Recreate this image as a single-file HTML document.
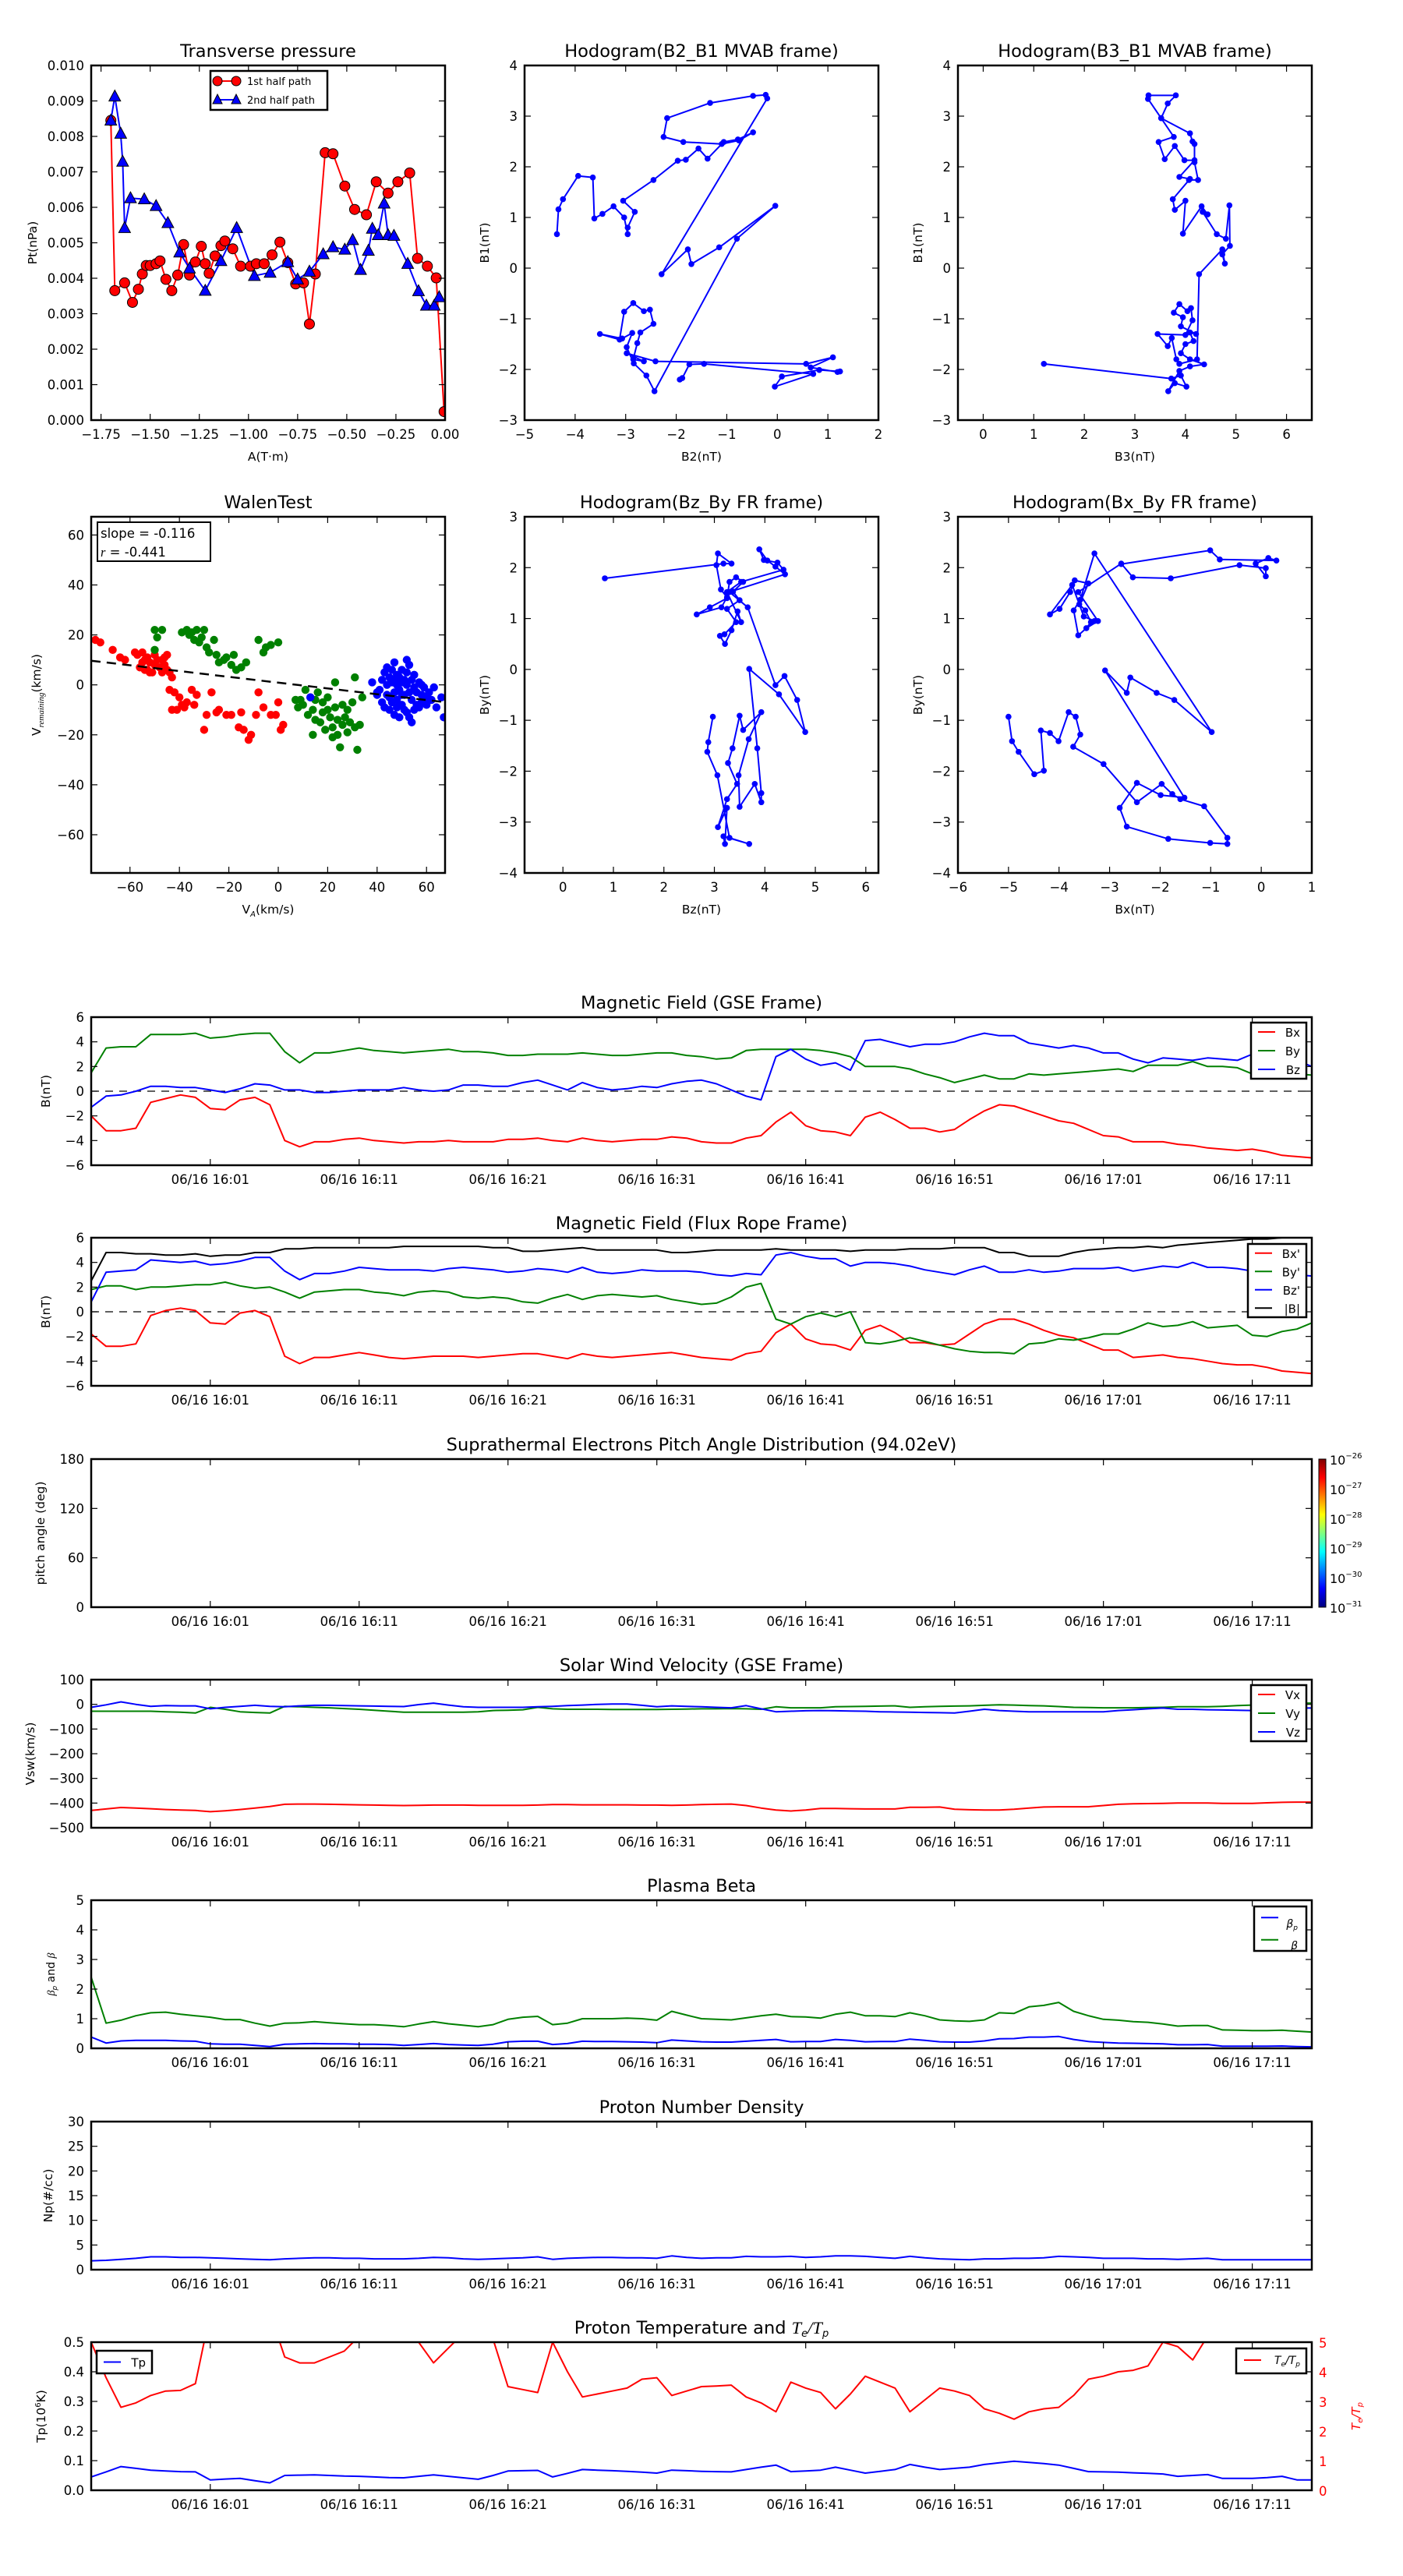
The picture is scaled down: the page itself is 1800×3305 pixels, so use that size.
<!DOCTYPE html>
<html><head><meta charset="utf-8"><style>
html,body{margin:0;padding:0;background:#fff;}
svg text{font-family:"DejaVu Sans","Liberation Sans",sans-serif;}
</style></head><body>
<svg id="fig" xmlns="http://www.w3.org/2000/svg" width="1800" height="3300" viewBox="0 0 1800 3300">
<defs>
<linearGradient id="jet" x1="0" y1="1" x2="0" y2="0">
<stop offset="0" stop-color="#00007f"/><stop offset="0.125" stop-color="#0000ff"/><stop offset="0.375" stop-color="#00ffff"/><stop offset="0.5" stop-color="#7fff7f"/><stop offset="0.625" stop-color="#ffff00"/><stop offset="0.875" stop-color="#ff0000"/><stop offset="1" stop-color="#7f0000"/>
</linearGradient>
</defs>
<rect x="0" y="0" width="1800" height="3300" fill="#fff"/>
</svg>
<script>
// ---------- DATA ----------
const ptRedA=[-1.70,-1.68,-1.63,-1.59,-1.56,-1.54,-1.52,-1.50,-1.47,-1.45,-1.42,-1.39,-1.36,-1.33,-1.30,-1.27,-1.24,-1.22,-1.20,-1.17,-1.14,-1.12,-1.08,-1.04,-0.99,-0.96,-0.92,-0.88,-0.84,-0.80,-0.76,-0.72,-0.69,-0.66,-0.61,-0.57,-0.51,-0.46,-0.40,-0.35,-0.29,-0.24,-0.18,-0.14,-0.09,-0.045,-0.005];
const ptRedP=[8.45,3.65,3.87,3.32,3.69,4.12,4.36,4.36,4.41,4.49,3.97,3.65,4.09,4.95,4.09,4.46,4.90,4.41,4.14,4.63,4.92,5.05,4.83,4.34,4.34,4.41,4.41,4.66,5.02,4.44,3.84,3.87,2.71,4.12,7.54,7.51,6.60,5.94,5.79,6.72,6.40,6.72,6.97,4.56,4.34,4.01,0.24];
const ptBlueA=[-1.70,-1.68,-1.65,-1.64,-1.63,-1.60,-1.53,-1.47,-1.41,-1.35,-1.30,-1.22,-1.14,-1.06,-0.97,-0.89,-0.80,-0.75,-0.69,-0.62,-0.57,-0.51,-0.47,-0.43,-0.39,-0.37,-0.34,-0.31,-0.29,-0.26,-0.19,-0.135,-0.095,-0.055,-0.03];
const ptBlueP=[8.45,9.13,8.08,7.29,5.42,6.26,6.23,6.04,5.56,4.73,4.28,3.65,4.49,5.42,4.07,4.16,4.46,3.97,4.19,4.68,4.88,4.81,5.08,4.24,4.78,5.40,5.22,6.11,5.22,5.20,4.41,3.64,3.23,3.23,3.47];
const h1B2=[-4.36,-4.33,-4.24,-3.94,-3.65,-3.62,-3.46,-3.24,-3.03,-2.96,-2.96,-2.82,-3.05,-2.45,-1.97,-1.81,-1.56,-1.38,-1.06,-0.78,-0.48,-0.76,-1.10,-1.86,-2.25,-2.18,-1.33,-0.48,-0.23,-0.20,-2.29,-1.77,-1.70,-1.15,-0.04,-0.80,-2.43,-2.59,-2.84,-2.98,-2.87,-3.07,-3.51,-3.12,-3.03,-2.85,-2.64,-2.52,-2.45,-2.71,-2.77,-2.85,-2.64,-2.98,-2.41,0.57,1.10,0.66,1.19,1.24,0.83,0.09,-0.05,0.71,-1.45,-1.74,-1.88,-1.93];
const h1B1=[0.67,1.16,1.36,1.82,1.79,0.98,1.07,1.22,1.00,0.67,0.80,1.11,1.33,1.74,2.12,2.14,2.36,2.16,2.49,2.54,2.68,2.52,2.45,2.49,2.59,2.96,3.26,3.40,3.42,3.35,-0.12,0.37,0.08,0.41,1.23,0.58,-2.43,-2.12,-1.88,-1.56,-1.28,-1.39,-1.30,-1.41,-0.86,-0.69,-0.85,-0.82,-1.10,-1.27,-1.48,-1.80,-1.84,-1.68,-1.84,-1.89,-1.76,-1.96,-2.05,-2.04,-2.01,-2.14,-2.34,-2.09,-1.89,-1.90,-2.17,-2.20];
const h2B3=[1.20,3.72,3.91,4.02,3.79,3.66,3.88,4.09,4.37,4.09,3.91,4.00,4.16,4.09,4.21,3.91,3.95,3.77,3.88,4.04,4.11,4.14,4.00,3.45,3.65,3.73,3.82,3.88,4.23,4.27,4.73,4.78,4.73,4.88,4.87,4.80,4.62,4.34,4.44,4.32,3.95,4.00,3.79,3.75,4.09,3.88,4.18,3.98,3.79,3.59,3.47,3.77,3.52,3.65,3.81,3.27,3.26,3.52,4.09,4.14,4.18,4.18,4.25,4.07];
const h2B1=[-1.89,-2.18,-2.12,-2.34,-2.27,-2.43,-2.03,-1.94,-1.90,-1.80,-1.68,-1.50,-1.44,-1.27,-1.30,-1.15,-0.97,-0.88,-0.71,-0.85,-0.79,-1.03,-1.32,-1.30,-1.54,-1.38,-1.80,-1.89,-1.80,-0.12,0.37,0.09,0.27,0.44,1.24,0.58,0.67,1.11,1.06,1.22,0.68,1.33,1.15,1.36,1.76,1.80,2.13,2.13,2.41,2.15,2.49,2.59,2.96,3.25,3.41,3.41,3.34,2.96,2.66,2.50,2.45,2.09,1.74,1.74];
const walenRedX=[-74,-72,-67,-64,-62,-57,-55,-53,-52,-50,-49,-48,-47,-46,-45,-44,-43,-56,-54,-51,-50,-58,-55,-53,-47,-44,-42,-40,-43,-39,-37,-35,-34,-30,-29,-27,-25,-24,-21,-19,-15,-14,-12,-11,-9,-8,-6,-3,-1,1,2,0,-33,-38,-41,-16,-45,-46,-52,-54];
const walenRedY=[18,17,14,11,10,12,13,11,9,8,10,7,5,8,6,5,3,7,6,5,12,13,9,6,10,-2,-3,-5,-10,-8,-7,-2,-8,-18,-12,-3,-11,-10,-12,-12,-11,-18,-22,-20,-12,-3,-9,-12,-12,-18,-16,-7,-4,-9,-10,-17,12,11,5,10];
const walenGreenX=[-50,-47,-50,-49,-39,-37,-36,-35,-33,-32,-31,-30,-29,-28,-26,-24,-22,-21,-19,-18,-17,-15,-13,-8,-6,-5,-3,0,7,9,10,12,13,14,15,16,17,18,20,21,22,23,24,24,25,26,27,28,29,30,31,32,33,23,31,34,20,15,11,19,8,14,28,22,26,18,-25,-34];
const walenGreenY=[22,22,14,19,21,22,20,21,22,17,19,22,15,13,18,9,10,11,8,12,6,7,9,18,13,15,16,17,-6,-6,-8,-12,-5,-10,-6,-3,-15,-11,-10,-13,-17,-9,-14,-20,-25,-8,-13,-19,-15,-7,-17,-26,-16,1,3,-5,-5,-14,-2,-18,-9,-20,-10,-21,-16,-7,12,18];
const walenBlueX=[13,38,40,41,42,43,44,44,45,45,46,46,47,47,48,48,48,49,49,50,50,50,51,51,52,52,52,53,53,54,54,55,55,56,56,57,58,58,59,60,61,62,63,64,66,67,43,45,47,49,51,53,46,44,47,52,54,57,42,40,48,50,55,58,60];
const walenBlueY=[-5,1,-3,-2,2,5,-4,0,3,-5,1,6,-3,2,-6,0,4,-2,3,-8,1,6,-4,2,-11,0,5,-3,8,-6,2,-1,4,-8,-3,1,-4,-7,-1,-5,-3,-6,-1,-9,-5,-13,-9,-10,-12,-13,-10,-13,-7,7,9,10,-15,-9,-7,-4,-9,-4,-10,0,-8];
const walenSlope=-0.116;
const walenIntercept=0.9;
const h3Bz=[0.83,3.18,3.34,3.07,3.04,3.13,3.25,3.14,2.65,2.91,3.25,3.30,3.43,3.57,3.37,3.50,3.25,3.43,3.20,3.11,3.21,3.34,3.46,3.53,3.25,3.53,4.37,4.25,3.98,3.89,4.05,4.21,4.40,3.30,3.66,4.21,4.39,4.64,4.80,4.28,3.69,3.85,3.93,3.93,3.80,3.50,3.48,3.68,3.93,3.57,3.50,3.36,3.27,3.45,3.25,3.07,3.25,3.21,3.18,3.69,3.30,3.06,2.86,2.88,2.97];
const h3By=[1.79,2.08,2.08,2.28,2.05,1.57,1.42,1.22,1.08,1.22,1.40,1.72,1.81,1.72,1.53,1.36,1.19,0.93,0.69,0.66,0.50,0.77,1.14,0.93,1.52,1.72,1.96,2.10,2.15,2.36,2.14,2.02,1.87,1.52,1.22,-0.31,-0.13,-0.60,-1.23,-0.49,0.01,-1.55,-2.43,-2.61,-2.25,-2.70,-2.08,-1.37,-0.84,-1.19,-0.91,-1.55,-1.84,-2.25,-2.55,-3.10,-2.72,-3.43,-3.28,-3.43,-3.31,-2.08,-1.62,-1.43,-0.93];
const h4Bx=[-5.00,-4.93,-4.80,-4.49,-4.30,-4.36,-4.18,-4.01,-3.81,-3.67,-3.58,-3.72,-3.12,-2.46,-1.97,-1.76,-1.60,-1.13,-0.67,-0.67,-1.01,-1.84,-2.66,-2.80,-2.46,-1.99,-1.52,-3.09,-2.66,-2.59,-2.07,-1.72,-0.98,-3.30,-3.58,-3.71,-3.62,-3.30,-3.51,-3.74,-4.18,-3.99,-3.78,-3.69,-3.42,-3.60,-3.48,-3.37,-3.46,-3.23,-3.62,-2.77,-2.54,-1.79,-0.43,0.09,0.09,-0.11,0.14,0.30,-0.82,-1.01,-2.77];
const h4By=[-0.93,-1.41,-1.62,-2.06,-1.99,-1.20,-1.25,-1.41,-0.84,-0.93,-1.28,-1.52,-1.86,-2.61,-2.25,-2.45,-2.55,-2.69,-3.31,-3.43,-3.41,-3.33,-3.09,-2.72,-2.23,-2.47,-2.52,-0.02,-0.46,-0.16,-0.46,-0.60,-1.23,2.28,1.37,1.16,0.67,0.95,1.04,1.66,1.08,1.19,1.52,1.75,1.69,1.28,1.16,0.93,0.81,0.95,1.52,2.08,1.81,1.79,2.05,1.99,1.83,2.08,2.19,2.14,2.16,2.34,2.07];
// time series: one value per minute starting 06/16 15:53
const timeTickMin=[8,18,28,38,48,58,68,78];
const timeTickLabels=['06/16 16:01','06/16 16:11','06/16 16:21','06/16 16:31','06/16 16:41','06/16 16:51','06/16 17:01','06/16 17:11'];
const gseBx=[-2.0,-3.2,-3.2,-3.0,-0.9,-0.6,-0.3,-0.5,-1.4,-1.5,-0.7,-0.5,-1.1,-4.0,-4.5,-4.1,-4.1,-3.9,-3.8,-4.0,-4.1,-4.2,-4.1,-4.1,-4.0,-4.1,-4.1,-4.1,-3.9,-3.9,-3.8,-4.0,-4.1,-3.8,-4.0,-4.1,-4.0,-3.9,-3.9,-3.7,-3.8,-4.1,-4.2,-4.2,-3.8,-3.6,-2.5,-1.7,-2.8,-3.2,-3.3,-3.6,-2.1,-1.7,-2.3,-3.0,-3.0,-3.3,-3.1,-2.3,-1.6,-1.1,-1.2,-1.6,-2.0,-2.4,-2.6,-3.1,-3.6,-3.7,-4.1,-4.1,-4.1,-4.3,-4.4,-4.6,-4.7,-4.8,-4.7,-4.9,-5.2,-5.3,-5.4];
const gseBy=[1.5,3.5,3.6,3.6,4.6,4.6,4.6,4.7,4.3,4.4,4.6,4.7,4.7,3.2,2.3,3.1,3.1,3.3,3.5,3.3,3.2,3.1,3.2,3.3,3.4,3.2,3.2,3.1,2.9,2.9,3.0,3.0,3.0,3.1,3.0,2.9,2.9,3.0,3.1,3.1,2.9,2.8,2.6,2.7,3.3,3.4,3.4,3.4,3.4,3.3,3.1,2.8,2.0,2.0,2.0,1.8,1.4,1.1,0.7,1.0,1.3,1.0,1.0,1.4,1.3,1.4,1.5,1.6,1.7,1.8,1.6,2.1,2.1,2.1,2.4,2.0,2.0,1.9,1.4,1.5,1.5,1.4,1.3];
const gseBz=[-1.3,-0.4,-0.3,0.0,0.4,0.4,0.3,0.3,0.1,-0.1,0.2,0.6,0.5,0.1,0.1,-0.1,-0.1,0.0,0.1,0.1,0.1,0.3,0.1,0.0,0.1,0.5,0.5,0.4,0.4,0.7,0.9,0.5,0.1,0.7,0.3,0.1,0.2,0.4,0.3,0.6,0.8,0.9,0.6,0.1,-0.4,-0.7,2.8,3.4,2.6,2.1,2.3,1.7,4.1,4.2,3.9,3.6,3.8,3.8,4.0,4.4,4.7,4.5,4.5,3.9,3.7,3.5,3.7,3.5,3.1,3.1,2.6,2.3,2.7,2.6,2.5,2.7,2.6,2.5,3.0,3.0,2.8,2.5,2.0];
const frBx=[-1.8,-2.8,-2.8,-2.6,-0.3,0.1,0.3,0.1,-0.9,-1.0,-0.1,0.1,-0.4,-3.6,-4.2,-3.7,-3.7,-3.5,-3.3,-3.5,-3.7,-3.8,-3.7,-3.6,-3.6,-3.6,-3.7,-3.6,-3.5,-3.4,-3.4,-3.6,-3.8,-3.4,-3.6,-3.7,-3.6,-3.5,-3.4,-3.3,-3.5,-3.7,-3.8,-3.9,-3.4,-3.2,-1.7,-1.0,-2.2,-2.6,-2.7,-3.1,-1.5,-1.1,-1.7,-2.5,-2.5,-2.7,-2.6,-1.8,-1.0,-0.6,-0.6,-1.0,-1.5,-1.9,-2.1,-2.6,-3.1,-3.1,-3.7,-3.6,-3.5,-3.7,-3.8,-4.0,-4.2,-4.3,-4.3,-4.5,-4.8,-4.9,-5.0];
const frBy=[1.8,2.1,2.1,1.8,2.0,2.0,2.1,2.2,2.2,2.4,2.1,1.9,2.0,1.6,1.1,1.6,1.7,1.8,1.8,1.6,1.5,1.3,1.6,1.7,1.6,1.2,1.1,1.2,1.1,0.8,0.7,1.1,1.4,1.0,1.3,1.4,1.3,1.2,1.3,1.0,0.8,0.6,0.7,1.2,2.0,2.3,-0.6,-1.0,-0.4,-0.1,-0.4,0.0,-2.5,-2.6,-2.4,-2.1,-2.4,-2.7,-3.0,-3.2,-3.3,-3.3,-3.4,-2.6,-2.5,-2.2,-2.3,-2.1,-1.8,-1.8,-1.4,-0.9,-1.2,-1.1,-0.8,-1.3,-1.2,-1.1,-1.9,-2.0,-1.6,-1.4,-0.9];
const frBz=[0.8,3.2,3.3,3.4,4.2,4.1,4.0,4.1,3.8,3.9,4.1,4.4,4.4,3.3,2.6,3.1,3.1,3.3,3.6,3.5,3.4,3.4,3.4,3.3,3.5,3.6,3.5,3.4,3.2,3.3,3.5,3.4,3.2,3.6,3.2,3.1,3.2,3.4,3.3,3.3,3.3,3.2,3.0,2.9,3.1,3.0,4.6,4.8,4.5,4.3,4.3,3.7,4.0,4.0,3.9,3.7,3.4,3.2,3.0,3.4,3.7,3.2,3.2,3.4,3.2,3.3,3.5,3.5,3.5,3.6,3.3,3.5,3.7,3.6,4.0,3.6,3.6,3.5,3.3,3.1,3.0,3.0,2.9];
const frBt=[2.5,4.8,4.8,4.7,4.7,4.6,4.6,4.7,4.5,4.6,4.6,4.8,4.8,5.1,5.1,5.2,5.2,5.2,5.2,5.2,5.2,5.3,5.3,5.3,5.3,5.3,5.3,5.2,5.2,4.9,4.9,5.0,5.1,5.2,5.0,5.0,5.0,5.0,5.0,4.8,4.8,4.9,5.0,5.0,5.0,5.0,5.1,5.0,5.0,5.0,5.0,4.9,5.0,5.0,5.0,5.1,5.1,5.1,5.2,5.2,5.2,4.8,4.8,4.5,4.5,4.5,4.8,5.0,5.1,5.2,5.2,5.3,5.2,5.4,5.5,5.6,5.7,5.8,5.9,5.9,6.0,6.0,6.0];
const vswVx=[-430,-424,-418,-420,-423,-426,-428,-430,-435,-431,-426,-420,-414,-405,-404,-404,-405,-406,-407,-408,-409,-410,-409,-408,-408,-408,-409,-409,-409,-409,-408,-406,-406,-407,-407,-407,-407,-408,-408,-409,-408,-406,-405,-404,-410,-420,-428,-432,-428,-422,-422,-423,-424,-424,-424,-417,-417,-416,-425,-427,-428,-428,-425,-420,-416,-415,-415,-415,-410,-405,-403,-402,-401,-400,-400,-400,-401,-401,-401,-399,-397,-396,-396];
const vswVy=[-28,-28,-28,-28,-28,-30,-32,-35,-12,-20,-30,-33,-35,-8,-10,-12,-14,-17,-20,-24,-28,-32,-32,-32,-32,-32,-30,-25,-24,-22,-12,-18,-20,-20,-20,-21,-21,-21,-21,-20,-19,-18,-18,-17,-18,-20,-10,-14,-14,-14,-10,-9,-8,-7,-6,-12,-10,-8,-7,-6,-4,-2,-3,-5,-6,-9,-12,-13,-14,-14,-14,-13,-12,-10,-10,-10,-8,-5,-3,0,3,5,5];
const vswVz=[-12,-2,10,0,-8,-5,-6,-6,-18,-12,-8,-4,-8,-10,-6,-4,-4,-5,-6,-7,-8,-9,-1,5,-3,-10,-12,-12,-12,-12,-10,-8,-5,-3,0,1,1,-4,-10,-6,-8,-10,-12,-14,-5,-18,-30,-28,-26,-25,-26,-27,-28,-30,-31,-32,-33,-34,-35,-28,-20,-25,-28,-30,-30,-30,-30,-30,-30,-25,-22,-18,-15,-20,-20,-22,-23,-24,-25,-25,-20,-15,-15];
const betaTotal=[2.4,0.85,0.95,1.1,1.2,1.22,1.15,1.1,1.05,0.97,0.97,0.85,0.75,0.85,0.86,0.9,0.86,0.83,0.8,0.8,0.77,0.73,0.82,0.9,0.83,0.78,0.73,0.8,0.98,1.05,1.08,0.8,0.85,1.0,1.0,1.0,1.02,1.0,0.95,1.25,1.12,1.0,0.98,0.96,1.03,1.1,1.15,1.07,1.06,1.02,1.15,1.22,1.1,1.1,1.07,1.2,1.1,0.96,0.93,0.91,0.96,1.2,1.18,1.4,1.45,1.55,1.25,1.1,0.98,0.95,0.9,0.88,0.82,0.75,0.77,0.77,0.62,0.61,0.6,0.6,0.61,0.58,0.55];
const betaP=[0.38,0.18,0.25,0.27,0.27,0.27,0.25,0.24,0.15,0.14,0.14,0.1,0.06,0.14,0.15,0.16,0.15,0.15,0.14,0.14,0.13,0.1,0.13,0.16,0.13,0.11,0.1,0.14,0.22,0.24,0.24,0.13,0.16,0.24,0.23,0.23,0.22,0.21,0.19,0.28,0.25,0.22,0.21,0.21,0.24,0.27,0.3,0.22,0.23,0.23,0.3,0.27,0.22,0.23,0.23,0.31,0.27,0.22,0.21,0.21,0.25,0.32,0.33,0.38,0.38,0.4,0.3,0.23,0.2,0.18,0.17,0.16,0.15,0.12,0.12,0.13,0.07,0.07,0.07,0.07,0.08,0.06,0.05];
const npDensity=[1.8,1.9,2.1,2.3,2.6,2.6,2.5,2.5,2.4,2.3,2.2,2.1,2.0,2.2,2.3,2.4,2.4,2.3,2.3,2.2,2.2,2.2,2.3,2.5,2.4,2.2,2.1,2.2,2.3,2.4,2.6,2.1,2.3,2.4,2.5,2.5,2.4,2.4,2.3,2.8,2.5,2.3,2.4,2.4,2.7,2.6,2.6,2.7,2.5,2.6,2.8,2.8,2.7,2.5,2.3,2.7,2.4,2.2,2.1,2.0,2.2,2.2,2.3,2.3,2.4,2.7,2.6,2.5,2.3,2.3,2.3,2.2,2.2,2.1,2.2,2.3,2.0,2.0,2.0,2.0,2.0,2.0,2.0];
const tpTemp=[0.045,0.062,0.08,0.074,0.068,0.065,0.063,0.062,0.035,0.038,0.04,0.032,0.025,0.05,0.051,0.052,0.05,0.048,0.047,0.045,0.043,0.042,0.047,0.052,0.047,0.042,0.037,0.05,0.065,0.066,0.067,0.045,0.057,0.07,0.068,0.066,0.064,0.061,0.058,0.068,0.066,0.064,0.063,0.062,0.07,0.078,0.085,0.063,0.065,0.068,0.078,0.068,0.058,0.064,0.07,0.087,0.078,0.07,0.074,0.078,0.087,0.093,0.098,0.094,0.09,0.085,0.074,0.063,0.062,0.061,0.059,0.057,0.055,0.047,0.05,0.053,0.04,0.04,0.04,0.043,0.047,0.035,0.035];
const teTpRatio=[5.0,3.8,2.8,2.95,3.2,3.35,3.37,3.6,6,6,6,6,6,4.5,4.3,4.3,4.5,4.7,5.2,6,6,6,5.0,4.3,4.8,5.3,6,5.1,3.5,3.4,3.3,5.0,4.0,3.15,3.25,3.35,3.45,3.75,3.8,3.2,3.35,3.5,3.52,3.55,3.15,2.95,2.65,3.65,3.45,3.3,2.75,3.25,3.85,3.65,3.45,2.65,3.05,3.45,3.35,3.2,2.75,2.6,2.4,2.65,2.75,2.8,3.2,3.75,3.85,4.0,4.05,4.2,5.0,4.85,4.4,5.2,6,6,6,6,6,6,6];
const cbarLabels=['-26','-27','-28','-29','-30','-31'];

// ---------- HELPERS ----------
const NS='http://www.w3.org/2000/svg';
const svg=document.getElementById('fig');
function mk(tag,attrs,parent){const e=document.createElementNS(NS,tag);for(const k in attrs)e.setAttribute(k,attrs[k]);(parent||svg).appendChild(e);return e;}
function nm(e,name,inter){
  
  
  return e;}
function txt(x,y,s,size,anchor,parent,extra){const t=mk('text',Object.assign({x:x,y:y,'font-size':size,'text-anchor':anchor||'middle',fill:'#000'},extra||{}),parent);t.textContent=s;return t;}
function fmt(v,d){const s=v.toFixed(d);return s.replace('-','\u2212');}
let cpn=0;
function makeAxes(name,x0,y0,x1,y1,xl,yl){
  const g=mk('g',{});nm(g,name,false);
  const sx=v=>x0+(v-xl[0])/(xl[1]-xl[0])*(x1-x0);
  const sy=v=>y1-(v-yl[0])/(yl[1]-yl[0])*(y1-y0);
  const id='cp'+(cpn++);
  const cp=mk('clipPath',{id:id},g);mk('rect',{x:x0,y:y0,width:x1-x0,height:y1-y0},cp);
  const plot=mk('g',{'clip-path':'url(#'+id+')'},g);
  nm(plot,name+'-plot-area',false);
  return {g,plot,sx,sy,x0,y0,x1,y1};
}
function frame(a){const r=mk('rect',{x:a.x0,y:a.y0,width:a.x1-a.x0,height:a.y1-a.y0,fill:'none',stroke:'#000','stroke-width':2.5},a.g);nm(r,'axes-frame',false);}
function xTicks(a,vals,labels,size){const g=mk('g',{},a.g);nm(g,'x-axis-ticks',false);
  vals.forEach((v,i)=>{const X=a.sx(v);mk('line',{x1:X,x2:X,y1:a.y1,y2:a.y1-8,stroke:'#000','stroke-width':1.2},g);mk('line',{x1:X,x2:X,y1:a.y0,y2:a.y0+8,stroke:'#000','stroke-width':1.2},g);
  const t=txt(X,a.y1+24,labels[i],size||16.5,'middle',g);nm(t,'x-tick-label',false);});}
function yTicks(a,vals,labels,size){const g=mk('g',{},a.g);nm(g,'y-axis-ticks',false);
  vals.forEach((v,i)=>{const Y=a.sy(v);mk('line',{x1:a.x0,x2:a.x0+8,y1:Y,y2:Y,stroke:'#000','stroke-width':1.2},g);mk('line',{x1:a.x1,x2:a.x1-8,y1:Y,y2:Y,stroke:'#000','stroke-width':1.2},g);
  const t=txt(a.x0-9,Y+6,labels[i],size||16.5,'end',g);nm(t,'y-tick-label',false);});}
function title(a,s){const t=txt((a.x0+a.x1)/2,a.y0-11,s,22.5,'middle',a.g);nm(t,'chart-title',false);return t;}
function xlabel(a,s,y){const t=txt((a.x0+a.x1)/2,y,s,15.5,'middle',a.g);nm(t,'x-axis-title',false);return t;}
function ylabel(a,s,x){const Y=(a.y0+a.y1)/2;const t=txt(x,Y,s,15.5,'middle',a.g,{transform:'rotate(-90 '+x+' '+Y+')'});nm(t,'y-axis-title',false);return t;}
function line(a,xs,ys,color,name,w){const p=xs.map((x,i)=>a.sx(x).toFixed(1)+','+a.sy(ys[i]).toFixed(1)).join(' ');const l=mk('polyline',{points:p,fill:'none',stroke:color,'stroke-width':w||2,'stroke-linejoin':'round'},a.plot);nm(l,name,false);return l;}
function dots(a,xs,ys,color,r,name){const g=mk('g',{},a.plot);nm(g,name,false);xs.forEach((x,i)=>{const c=mk('circle',{cx:a.sx(x),cy:a.sy(ys[i]),r:r,fill:color},g);nm(c,name+'-point',false);});return g;}
function range(a,b,s){const r=[];for(let v=a;v<=b+1e-9;v+=s)r.push(+v.toFixed(6));return r;}
function legend(a,x,y,w,h,entries,fs){const g=mk('g',{},a.g);nm(g,'legend',false);
  mk('rect',{x:x,y:y,width:w,height:h,fill:'#fff',stroke:'#000','stroke-width':2.5},g);
  const step=h/entries.length;
  entries.forEach((e,i)=>{const cy=y+step*(i+0.5);const ge=mk('g',{},g);nm(ge,'legend-entry',false);
    mk('line',{x1:x+9,x2:x+31,y1:cy,y2:cy,stroke:e[1],'stroke-width':2},ge);
    const t=txt(x+w-8,cy+6,e[0],fs||16,'end',ge,e[2]||{});});return g;}

// ---------- ROW 1/2 PANELS ----------
const R1=[84,539], R2=[663,1120];
const C1=[117,571],C2=[673,1127],C3=[1229,1683];
const minuteIdx=gseBx.map((v,i)=>i);

// Transverse pressure
(function(){
  const a=makeAxes('transverse-pressure-chart',C1[0],R1[0],C1[1],R1[1],[-1.80,0],[0,0.010]);
  const red=line(a,ptRedA,ptRedP.map(v=>v/1000),'#ff0000','first-half-path-line',2);
  const blue=line(a,ptBlueA,ptBlueP.map(v=>v/1000),'#0000ff','second-half-path-line',2);
  const gr=mk('g',{},a.plot);nm(gr,'first-half-path-markers',false);
  ptRedA.forEach((x,i)=>{const c=mk('circle',{cx:a.sx(x),cy:a.sy(ptRedP[i]/1000),r:6.5,fill:'#ff0000',stroke:'#000','stroke-width':1},gr);nm(c,'first-half-marker',false);});
  const gb=mk('g',{},a.plot);nm(gb,'second-half-path-markers',false);
  ptBlueA.forEach((x,i)=>{const X=a.sx(x),Y=a.sy(ptBlueP[i]/1000);const t=mk('polygon',{points:(X)+','+(Y-8)+' '+(X-7.5)+','+(Y+6)+' '+(X+7.5)+','+(Y+6),fill:'#0000ff',stroke:'#000','stroke-width':1},gb);nm(t,'second-half-marker',false);});
  frame(a);
  const xt=[-1.75,-1.5,-1.25,-1,-0.75,-0.5,-0.25,0];
  xTicks(a,xt,xt.map(v=>fmt(v,2)));
  const yt=range(0,0.010,0.001);yTicks(a,yt,yt.map(v=>v.toFixed(3)));
  title(a,'Transverse pressure');xlabel(a,'A(T\u00b7m)',591);ylabel(a,'Pt(nPa)',47);
  const lg=mk('g',{},a.g);nm(lg,'legend',false);
  mk('rect',{x:270,y:91,width:150,height:50,fill:'#fff',stroke:'#000','stroke-width':2.5},lg);
  const e1=mk('g',{},lg);nm(e1,'legend-entry',false);
  mk('line',{x1:277,x2:305,y1:104,y2:104,stroke:'#f00','stroke-width':2},e1);
  mk('circle',{cx:279,cy:104,r:6,fill:'#f00',stroke:'#000'},e1);mk('circle',{cx:303,cy:104,r:6,fill:'#f00',stroke:'#000'},e1);
  txt(317,109,'1st half path',13,'start',e1);
  const e2=mk('g',{},lg);nm(e2,'legend-entry',false);
  mk('line',{x1:277,x2:305,y1:128,y2:128,stroke:'#00f','stroke-width':2},e2);
  mk('polygon',{points:'279,121 273,133 285,133',fill:'#00f',stroke:'#000'},e2);mk('polygon',{points:'303,121 297,133 309,133',fill:'#00f',stroke:'#000'},e2);
  txt(317,133,'2nd half path',13,'start',e2);
})();

function hodo(name,C,R,xl,yl,xs,ys,xt,yt,tt,xlab,ylab){
  const a=makeAxes(name,C[0],R[0],C[1],R[1],xl,yl);
  line(a,xs,ys,'#0000ff',name+'-path',2);
  dots(a,xs,ys,'#0000ff',3.8,name+'-points');
  frame(a);
  xTicks(a,xt,xt.map(v=>fmt(v,0)));yTicks(a,yt,yt.map(v=>fmt(v,0)));
  title(a,tt);xlabel(a,xlab,R[1]===R1[1]?591:1172);ylabel(a,ylab,C[0]-46);
  return a;
}
hodo('hodogram-b2-b1',C2,R1,[-5,2],[-3,4],h1B2,h1B1,range(-5,2,1),range(-3,4,1),'Hodogram(B2_B1 MVAB frame)','B2(nT)','B1(nT)');
hodo('hodogram-b3-b1',C3,R1,[-0.5,6.5],[-3,4],h2B3,h2B1,range(0,6,1),range(-3,4,1),'Hodogram(B3_B1 MVAB frame)','B3(nT)','B1(nT)');
hodo('hodogram-bz-by',C2,R2,[-0.76,6.25],[-4,3],h3Bz,h3By,range(0,6,1),range(-4,3,1),'Hodogram(Bz_By FR frame)','Bz(nT)','By(nT)');
hodo('hodogram-bx-by',C3,R2,[-6,1],[-4,3],h4Bx,h4By,range(-6,1,1),range(-4,3,1),'Hodogram(Bx_By FR frame)','Bx(nT)','By(nT)');

// Walen test
(function(){
  const a=makeAxes('walen-test-chart',C1[0],R2[0],C1[1],R2[1],[-75.7,67.5],[-75.3,67.3]);
  dots(a,walenRedX,walenRedY,'#ff0000',5.2,'walen-red-points');
  dots(a,walenGreenX,walenGreenY,'#008000',5.2,'walen-green-points');
  dots(a,walenBlueX,walenBlueY,'#0000ff',5.2,'walen-blue-points');
  const xs=[-75.7,67.5];
  const fl=line(a,xs,xs.map(v=>walenSlope*v+walenIntercept),'#000','walen-fit-line',2.5);fl.setAttribute('stroke-dasharray','12,8');
  frame(a);
  const t=range(-60,60,20);xTicks(a,t,t.map(v=>fmt(v,0)));yTicks(a,t,t.map(v=>fmt(v,0)));
  title(a,'WalenTest');
  const xl=xlabel(a,'',1172);xl.innerHTML='V<tspan font-size="10" font-style="italic" dy="4">A</tspan><tspan dy="-4">(km/s)</tspan>';
  const Y=(a.y0+a.y1)/2;const yl=txt(52,Y,'',15.5,'middle',a.g,{transform:'rotate(-90 52 '+Y+')'});nm(yl,'y-axis-title',false);
  yl.innerHTML='V<tspan font-size="11" font-style="italic" font-family="Liberation Serif" dy="4">remaining</tspan><tspan dy="-4">(km/s)</tspan>';
  const bx=mk('g',{},a.g);nm(bx,'fit-stats-box',false);
  mk('rect',{x:125,y:670,width:145,height:50,fill:'#fff',stroke:'#000','stroke-width':2},bx);
  txt(129,690,'slope = -0.116',16.5,'start',bx);
  const r=txt(129,714,'',16.5,'start',bx);r.innerHTML='<tspan font-style="italic" font-family="Liberation Serif">r</tspan> = -0.441';
})();

// ---------- TIME SERIES PANELS ----------
const TX=[117,1683];
function tsAxes(name,y0,yl,yt,ylabFmt){
  const a=makeAxes(name,TX[0],y0,TX[1],y0+190,[0,82],yl);
  return a;}
function tsFinish(a,yt,yfmt,tt,ylab,ylx){frame(a);xTicks(a,timeTickMin,timeTickLabels);yTicks(a,yt,yt.map(yfmt));const t=title(a,tt);ylabel(a,ylab,ylx);return t;}
function zeroLine(a){const l=mk('line',{x1:a.x0,x2:a.x1,y1:a.sy(0),y2:a.sy(0),stroke:'#000','stroke-width':1.3,'stroke-dasharray':'10,8'},a.plot);nm(l,'zero-reference-line',false);}

(function(){
  const a=tsAxes('magnetic-field-gse-chart',1305,[-6,6]);
  zeroLine(a);
  line(a,minuteIdx,gseBx,'#ff0000','bx-line');line(a,minuteIdx,gseBy,'#008000','by-line');line(a,minuteIdx,gseBz,'#0000ff','bz-line');
  tsFinish(a,range(-6,6,2),v=>fmt(v,0),'Magnetic Field (GSE Frame)','B(nT)',64);
  legend(a,1605,1312,71,72,[['Bx','#f00'],['By','#008000'],['Bz','#00f']],15);
})();
(function(){
  const a=tsAxes('magnetic-field-flux-rope-chart',1588,[-6,6]);
  zeroLine(a);
  line(a,minuteIdx,frBx,'#ff0000','bx-prime-line');line(a,minuteIdx,frBy,'#008000','by-prime-line');line(a,minuteIdx,frBz,'#0000ff','bz-prime-line');line(a,minuteIdx,frBt,'#000000','b-magnitude-line');
  tsFinish(a,range(-6,6,2),v=>fmt(v,0),'Magnetic Field (Flux Rope Frame)','B(nT)',64);
  legend(a,1601,1596,75,94,[["Bx'",'#f00'],["By'",'#008000'],["Bz'",'#00f'],['|B|','#000']],15);
})();
(function(){
  const a=tsAxes('pitch-angle-distribution-chart',1872,[0,180]);
  tsFinish(a,[0,60,120,180],v=>fmt(v,0),'Suprathermal Electrons Pitch Angle Distribution (94.02eV)','pitch angle (deg)',57);
  const cb=mk('g',{});nm(cb,'colorbar',false);
  mk('rect',{x:1692,y:1872,width:9,height:190,fill:'url(#jet)',stroke:'#000','stroke-width':1},cb);
  cbarLabels.forEach((s,i)=>{const Y=1872+i*38;const t=txt(1706,Y+7,'',16,'start',cb);t.innerHTML='10<tspan font-size="10" dy="-8">'+s.replace('-','\u2212')+'</tspan>';nm(t,'colorbar-tick-label',false);});
})();
(function(){
  const a=tsAxes('solar-wind-velocity-chart',2155,[-500,100]);
  line(a,minuteIdx,vswVx,'#ff0000','vx-line');line(a,minuteIdx,vswVy,'#008000','vy-line');line(a,minuteIdx,vswVz,'#0000ff','vz-line');
  tsFinish(a,range(-500,100,100),v=>fmt(v,0),'Solar Wind Velocity (GSE Frame)','Vsw(km/s)',44);
  legend(a,1605,2162,71,72,[['Vx','#f00'],['Vy','#008000'],['Vz','#00f']],15);
})();
(function(){
  const a=tsAxes('plasma-beta-chart',2438,[0,5]);
  line(a,minuteIdx,betaP,'#0000ff','beta-p-line');line(a,minuteIdx,betaTotal,'#008000','beta-line');
  tsFinish(a,range(0,5,1),v=>fmt(v,0),'Plasma Beta','',70);
  const Y=2533;const yl=txt(70,Y,'',14,'middle',a.g,{transform:'rotate(-90 70 '+Y+')'});nm(yl,'y-axis-title',false);
  yl.innerHTML='<tspan font-style="italic" font-family="Liberation Serif">\u03b2</tspan><tspan font-size="9" dy="3" font-style="italic">p</tspan><tspan dy="-3"> and </tspan><tspan font-style="italic" font-family="Liberation Serif">\u03b2</tspan>';
  const lg=legend(a,1609,2446,67,57,[['',"#00f"],['','#008000']],14);
  const l1=txt(1665,2473,'',14,'end',lg,{'font-style':'italic','font-family':'Liberation Serif'});l1.innerHTML='\u03b2<tspan font-size="9" dy="3">p</tspan>';
  txt(1665,2501,'\u03b2',14,'end',lg,{'font-style':'italic','font-family':'Liberation Serif'});
})();
(function(){
  const a=tsAxes('proton-density-chart',2722,[0,30]);
  line(a,minuteIdx,npDensity,'#0000ff','np-line');
  tsFinish(a,range(0,30,5),v=>fmt(v,0),'Proton Number Density','Np(#/cc)',67);
})();
(function(){
  const a=tsAxes('proton-temperature-chart',3005,[0,0.5]);
  line(a,minuteIdx,tpTemp,'#0000ff','tp-line');
  const ar={sx:a.sx,sy:v=>a.y1-(v/5)*(a.y1-a.y0),plot:a.plot};
  line(ar,minuteIdx,teTpRatio,'#ff0000','te-tp-ratio-line');
  frame(a);xTicks(a,timeTickMin,timeTickLabels);
  const yt=range(0,0.5,0.1);yTicks(a,yt,yt.map(v=>v.toFixed(1)));
  const rg=mk('g',{},a.g);nm(rg,'right-y-axis-ticks',false);
  [0,1,2,3,4,5].forEach(v=>{const Y=ar.sy(v);mk('line',{x1:a.x1,x2:a.x1-8,y1:Y,y2:Y,stroke:'#000','stroke-width':1.2},rg);const t=txt(a.x1+9,Y+7,String(v),16.5,'start',rg,{fill:'#f00'});t.setAttribute('fill','#f00');});
  const t=title(a,'');t.innerHTML='Proton Temperature and <tspan font-style="italic" font-family="Liberation Serif">T</tspan><tspan font-size="13" dy="4" font-style="italic">e</tspan><tspan dy="-4" font-family="Liberation Serif" font-style="italic">/T</tspan><tspan font-size="13" dy="4" font-style="italic">p</tspan>';
  const Y=3100;const yl=txt(58,Y,'',15.5,'middle',a.g,{transform:'rotate(-90 58 '+Y+')'});nm(yl,'y-axis-title',false);yl.innerHTML='Tp(10<tspan font-size="10" dy="-6">6</tspan><tspan dy="6">K)</tspan>';
  const ry=txt(1745,Y,'',15,'middle',a.g,{transform:'rotate(-90 1745 '+Y+')',fill:'#f00','font-style':'italic','font-family':'Liberation Serif'});nm(ry,'right-y-axis-title',false);ry.innerHTML='T<tspan font-size="10" dy="3">e</tspan><tspan dy="-3">/T</tspan><tspan font-size="10" dy="3">p</tspan>';
  const l1=legend(a,124,3016,71,29,[['Tp','#00f']],15);
  const l2=mk('g',{},a.g);nm(l2,'legend',false);
  mk('rect',{x:1586,y:3013,width:90,height:32,fill:'#fff',stroke:'#000','stroke-width':2.5},l2);
  mk('line',{x1:1596,x2:1618,y1:3028,y2:3028,stroke:'#f00','stroke-width':2},l2);
  const lt=txt(1668,3033,'',14,'end',l2,{'font-style':'italic','font-family':'Liberation Serif'});lt.innerHTML='T<tspan font-size="9" dy="3">e</tspan><tspan dy="-3">/T</tspan><tspan font-size="9" dy="3">p</tspan>';
})();
</script>
</body></html>
